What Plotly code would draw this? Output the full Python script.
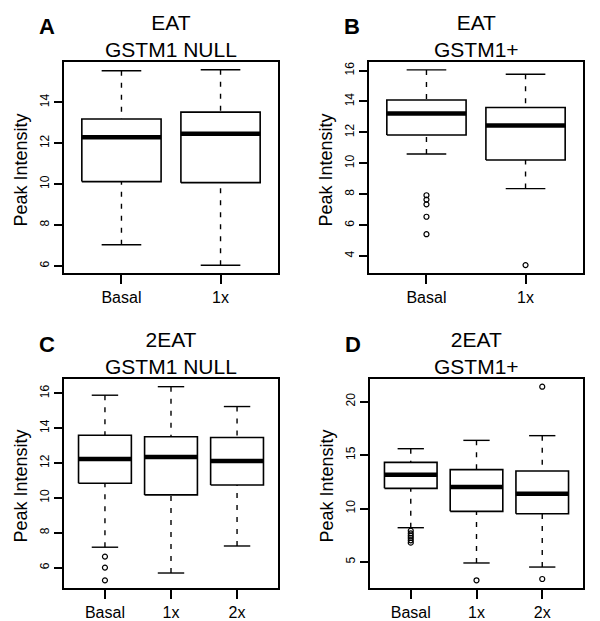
import plotly.graph_objects as go

# ---------------- data ----------------
cats_A = ["Basal", "1x"]
A_low = [7.03, 6.03]
A_q1 = [10.12, 10.07]
A_med = [12.29, 12.46]
A_q3 = [13.18, 13.52]
A_high = [15.54, 15.59]
A_out = [[], []]

cats_B = ["Basal", "1x"]
B_low = [10.60, 8.36]
B_q1 = [11.83, 10.21]
B_med = [13.22, 12.44]
B_q3 = [14.09, 13.61]
B_high = [16.04, 15.76]
B_out = [[7.93, 7.65, 7.34, 6.54, 5.41], [3.41]]

cats_C = ["Basal", "1x", "2x"]
C_low = [7.17, 5.69, 7.24]
C_q1 = [10.84, 10.17, 10.74]
C_med = [12.23, 12.35, 12.12]
C_q3 = [13.59, 13.51, 13.46]
C_high = [15.89, 16.38, 15.24]
C_out = [[6.63, 6.00, 5.27], [], []]

cats_D = ["Basal", "1x", "2x"]
D_low = [8.21, 4.91, 4.53]
D_q1 = [11.89, 9.74, 9.52]
D_med = [13.17, 12.02, 11.39]
D_q3 = [14.32, 13.64, 13.51]
D_high = [15.60, 16.38, 16.82]
D_out = [[7.93, 7.68, 7.46, 7.25, 7.03, 6.81], [3.29], [21.40, 3.41]]

titles = ["EAT<br>GSTM1 NULL", "EAT<br>GSTM1+", "2EAT<br>GSTM1 NULL", "2EAT<br>GSTM1+"]
letters = ["A", "B", "C", "D"]
y_title = "Peak Intensity"

panels = [
    (cats_A, A_low, A_q1, A_med, A_q3, A_high, A_out),
    (cats_B, B_low, B_q1, B_med, B_q3, B_high, B_out),
    (cats_C, C_low, C_q1, C_med, C_q3, C_high, C_out),
    (cats_D, D_low, D_q1, D_med, D_q3, D_high, D_out),
]

# ---------------- layout geometry ----------------
W, H = 600, 621
FONT = "Liberation Sans, Arial, Helvetica, sans-serif"
boxes_px = [  # left, right, top, bottom in pixels
    (64, 278, 62, 273),
    (369, 583, 62, 273),
    (64, 278, 379, 588),
    (370, 583, 379, 588),
]
y_ranges = [[5.65, 15.97], [2.90, 16.55], [4.83, 16.82], [2.57, 22.12]]
y_dticks = [2, 2, 2, 5]

BW = 0.8      # box width (data units)
SW = 0.4      # staple width

fig = go.Figure()
for p, (cats, low, q1, med, q3, high, outs) in enumerate(panels):
    xa = "x" if p == 0 else f"x{p+1}"
    ya = "y" if p == 0 else f"y{p+1}"
    bx, by, mx, my, wx, wy, sx, sy, ox, oy = ([] for _ in range(10))
    for i in range(len(cats)):
        x = i + 1
        bx += [x - BW/2, x + BW/2, x + BW/2, x - BW/2, x - BW/2, None]
        by += [q1[i], q1[i], q3[i], q3[i], q1[i], None]
        mx += [x - BW/2, x + BW/2, None]
        my += [med[i], med[i], None]
        wx += [x, x, None, x, x, None]
        wy += [high[i], q3[i], None, low[i], q1[i], None]
        sx += [x - SW/2, x + SW/2, None, x - SW/2, x + SW/2, None]
        sy += [high[i], high[i], None, low[i], low[i], None]
        for v in outs[i]:
            ox.append(x)
            oy.append(v)
    common = dict(xaxis=xa, yaxis=ya, showlegend=False, hoverinfo="skip")
    fig.add_trace(go.Scatter(x=wx, y=wy, mode="lines",
                             line=dict(color="black", width=1.4, dash="5px,7px"), **common))
    fig.add_trace(go.Scatter(x=sx, y=sy, mode="lines",
                             line=dict(color="black", width=1.4), **common))
    fig.add_trace(go.Scatter(x=bx, y=by, mode="lines", fill="toself", fillcolor="white",
                             line=dict(color="black", width=1.6), **common))
    fig.add_trace(go.Scatter(x=mx, y=my, mode="lines",
                             line=dict(color="black", width=4.5), **common))
    fig.add_trace(go.Scatter(x=ox, y=oy, mode="markers",
                             marker=dict(symbol="circle-open", size=5, color="black",
                                         line=dict(width=1.2)), **common))

layout = dict(
    width=W, height=H, margin=dict(l=0, r=0, t=0, b=0),
    paper_bgcolor="white", plot_bgcolor="white",
    font=dict(family=FONT, color="black"),
)
annotations = []
for p, (cats, *_rest) in enumerate(panels):
    l, r, t, b = boxes_px[p]
    n = len(cats)
    xkey = "xaxis" if p == 0 else f"xaxis{p+1}"
    ykey = "yaxis" if p == 0 else f"yaxis{p+1}"
    ext = n * 0.04
    layout[xkey] = dict(
        domain=[l / W, r / W], range=[0.5 - ext, n + 0.5 + ext],
        anchor="y" if p == 0 else f"y{p+1}",
        tickmode="array", tickvals=list(range(1, n + 1)), ticktext=cats,
        ticks="outside", ticklen=9, tickwidth=1.5, tickcolor="black",
        showline=True, mirror=True, linecolor="black", linewidth=1.6,
        showgrid=False, zeroline=False, tickfont=dict(size=16, family=FONT),
        fixedrange=True,
    )
    layout[ykey] = dict(
        domain=[1 - b / H, 1 - t / H], range=y_ranges[p],
        anchor="x" if p == 0 else f"x{p+1}",
        dtick=y_dticks[p], tick0=0,
        ticks="outside", ticklen=8, tickwidth=1.5, tickcolor="black",
        showline=True, mirror=True, linecolor="black", linewidth=1.6,
        showgrid=False, zeroline=False, tickangle=-90,
        tickfont=dict(size=12, family=FONT), fixedrange=True,
    )
    cx = (l + r) / 2
    annotations.append(dict(text=titles[p], x=cx / W, y=1 - (t - 26) / H,
                            xref="paper", yref="paper", showarrow=False,
                            xanchor="center", yanchor="middle",
                            font=dict(size=21, family=FONT)))
    annotations.append(dict(text="<b>" + letters[p] + "</b>", x=(l - 17) / W,
                            y=1 - (t - 35) / H, xref="paper", yref="paper",
                            showarrow=False, xanchor="center", yanchor="middle",
                            font=dict(size=22, family=FONT)))
    annotations.append(dict(text=y_title, x=(l - 44) / W, y=1 - ((t + b) / 2 + 3) / H,
                            xref="paper", yref="paper", showarrow=False,
                            textangle=-90, xanchor="center", yanchor="middle",
                            font=dict(size=18, family=FONT)))
layout["annotations"] = annotations
fig.update_layout(**layout)

fig.write_html("out.html", config={"displayModeBar": False},
               post_script="document.body.style.margin='0px';document.body.style.overflow='hidden';")
